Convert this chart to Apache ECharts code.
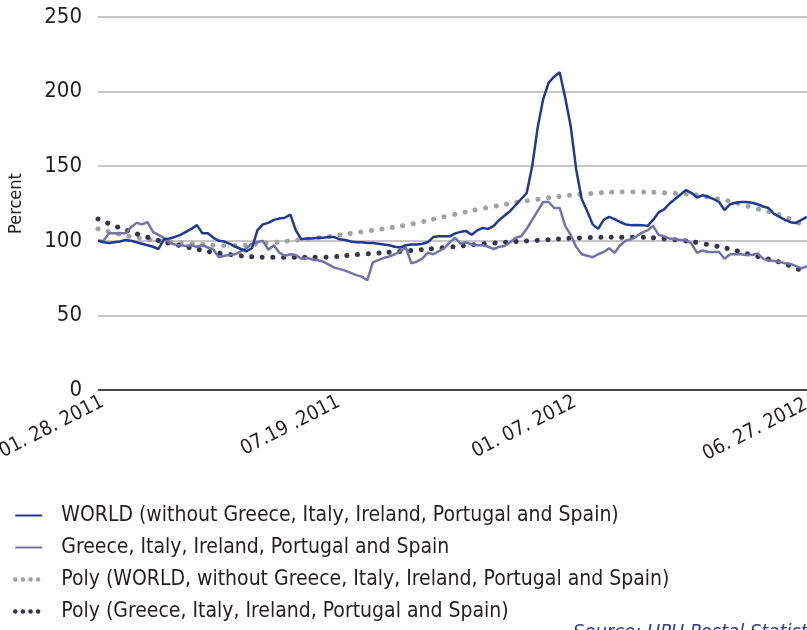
<!DOCTYPE html>
<html>
<head>
<meta charset="utf-8">
<script src="https://cdn.jsdelivr.net/npm/echarts@6/dist/echarts.min.js"></script>
<style>
  html, body { margin: 0; padding: 0; background: #fff; }
  #main { width: 807px; height: 630px; }
</style>
</head>
<body>
<div id="main"></div>
<script>
// x = sample number, one sample every 4 days from 01.28.2011 to 06.27.2012
const tickLabels = ['01. 28. 2011', '07.19 .2011', '01. 07. 2012', '06. 27. 2012'];

const world = [
  100, 99, 98.5, 99, 99.5, 100.5, 100, 99, 98, 97,
  96, 94.5, 101, 101.5, 102.6, 104, 106, 108, 110.5, 105,
  105, 102, 100, 99.5, 98, 96, 94.5, 93, 95, 107,
  111, 112, 114, 115, 115.5, 117.5, 107, 101, 101.5, 101.5,
  102, 102, 102.5, 102.5, 101, 100.5, 99.5, 99, 99, 98.5,
  98.5, 98, 97.5, 97, 96, 95.5, 97, 97.5, 97.5, 98,
  99, 102.5, 103, 103, 103, 105, 106, 106.5, 104, 107,
  108.6, 108, 110, 114, 117, 120, 124, 128, 132, 150,
  176, 195, 206, 210, 213, 196, 177, 148, 128, 120,
  111, 108, 114, 116, 114.5, 112.6, 111, 110.5, 110.6, 110.5,
  110, 114, 119, 121, 125, 128, 131, 134, 132, 129,
  130.5, 129.5, 128, 126, 120.6, 124.5, 125.5, 126, 126, 125.5,
  124.5, 123, 122, 118, 116, 114, 112.5, 112, 114, 116
];

const south = [
  100, 100, 105, 105, 105, 105, 109, 112, 111, 112.5,
  106, 104, 102, 98.5, 97.5, 97, 96.5, 97, 96, 97,
  95.5, 94, 89, 90, 90.5, 91, 93, 95, 98, 99,
  100, 94, 97, 92, 90, 91, 90.5, 88, 88.5, 87.5,
  87, 86, 84, 82, 81, 80, 78.5, 77, 76, 73.5,
  85.5, 87, 88.5, 89.5, 91, 93, 95.5, 85, 86, 88,
  92, 91, 93, 95, 99, 102, 98, 99, 97.5, 97,
  97, 96, 94.5, 96, 96.5, 99, 102, 103, 108, 114,
  120, 126, 126, 122, 122, 110, 104, 96, 91, 90,
  89, 91, 92.5, 95, 92, 97, 100, 101, 103, 105.5,
  107, 110, 104, 103, 101.5, 101, 100.5, 100.5, 98, 92,
  93.5, 92.5, 92.5, 92.5, 88, 91, 91, 91, 90.5, 90.5,
  91.5, 88, 87, 86.5, 86, 85, 84.5, 83, 81.5, 83
];

const polyX = [0, 8, 16, 24, 32, 40, 48, 56, 64, 72, 80, 88, 96, 104, 112, 120, 125, 129];
const polyWorld = [108, 101.5, 98.5, 96.8, 99, 102, 106, 110.5, 117, 123, 127.8, 131.2, 132.7, 132, 128.7, 121.4, 116, 108.6];
const polySouth = [114.6, 103.5, 96, 90.8, 89, 89, 91, 93.2, 95.8, 98.5, 100.3, 102, 102.4, 101, 96.8, 89.5, 84.5, 78.4];

const names = [
  'WORLD (without Greece, Italy, Ireland, Portugal and Spain)',
  'Greece, Italy, Ireland, Portugal and Spain',
  'Poly (WORLD, without Greece, Italy, Ireland, Portugal and Spain)',
  'Poly (Greece, Italy, Ireland, Portugal and Spain)'
];

const font = "'Liberation Sans Narrow', 'DejaVu Sans Condensed', sans-serif";
const dotted = [0.1, 10.5];

let myChart = echarts.init(document.getElementById('main'));

let option = {
  animation: false,
  textStyle: { fontFamily: font },
  grid: { left: 98, right: 0, top: 17, bottom: 240, outerBoundsMode: 'none' },
  legend: {
    orient: 'vertical',
    left: 8,
    top: 500,
    height: 200,
    itemGap: 11,
    itemWidth: 27,
    itemHeight: 20,
    itemStyle: { opacity: 0 },
    textStyle: { fontSize: 21, color: '#231f20', fontFamily: font, padding: [0, 0, 0, 14] },
    data: [
      { name: names[0] },
      { name: names[1] },
      { name: names[2], lineStyle: { type: [0.1, 7.5], width: 4.5, cap: 'round' } },
      { name: names[3], lineStyle: { type: [0.1, 7.5], width: 4.5, cap: 'round' } }
    ]
  },
  xAxis: {
    type: 'value',
    min: 0,
    max: 129,
    interval: 43,
    splitLine: { show: false },
    axisTick: { show: false },
    axisLine: { show: false },
    axisLabel: {
      rotate: 27,
      fontSize: 20,
      color: '#231f20',
      margin: 2,
      verticalAlign: 'top',
      showMaxLabel: true,
      formatter: function (v) {
        const i = Math.round(v / 43);
        return i === tickLabels.length - 1 ? '{last|' + tickLabels[i] + '}' : tickLabels[i];
      },
      rich: {
        last: { fontSize: 20, color: '#231f20', fontFamily: font, padding: [0, 6, 0, 0] }
      }
    }
  },
  yAxis: {
    type: 'value',
    min: 0,
    max: 250,
    interval: 50,
    name: 'Percent',
    nameLocation: 'middle',
    nameGap: 73,
    nameTextStyle: { fontSize: 18, color: '#231f20', fontFamily: font },
    axisLine: { show: false },
    axisTick: { show: false },
    axisLabel: { fontSize: 22, color: '#231f20', margin: 16 },
    splitLine: { lineStyle: { color: '#b3b3b3', width: 1.5 } }
  },
  series: [
    {
      name: names[0],
      type: 'line',
      symbol: 'none',
      z: 4,
      lineStyle: { color: '#1f3a8e', width: 2.5 },
      itemStyle: { color: '#1f3a8e' },
      data: world.map((v, i) => [i, v])
    },
    {
      name: names[1],
      type: 'line',
      symbol: 'none',
      z: 3,
      lineStyle: { color: '#7373a6', width: 2.5 },
      itemStyle: { color: '#7373a6' },
      data: south.map((v, i) => [i, v])
    },
    {
      name: names[2],
      type: 'line',
      symbol: 'none',
      smooth: true,
      z: 2,
      lineStyle: { color: '#a2a2a4', width: 5, type: dotted, cap: 'round' },
      itemStyle: { color: '#a2a2a4' },
      data: polyX.map((x, i) => [x, polyWorld[i]])
    },
    {
      name: names[3],
      type: 'line',
      symbol: 'none',
      smooth: true,
      z: 2,
      lineStyle: { color: '#34344f', width: 5, type: dotted, cap: 'round' },
      itemStyle: { color: '#34344f' },
      data: polyX.map((x, i) => [x, polySouth[i]]),
      markLine: {
        silent: true,
        symbol: 'none',
        label: { show: false },
        lineStyle: { color: '#231f20', width: 1.5, type: 'solid', cap: 'butt' },
        data: [{ yAxis: 0 }]
      }
    }
  ],
  graphic: [
    {
      type: 'text',
      left: 573,
      top: 623,
      style: {
        text: 'Source: UPU Postal Statistics',
        fontSize: 20,
        fontStyle: 'italic',
        fontFamily: font,
        fill: '#2e3f8f'
      }
    }
  ]
};

myChart.setOption(option);
</script>
</body>
</html>
